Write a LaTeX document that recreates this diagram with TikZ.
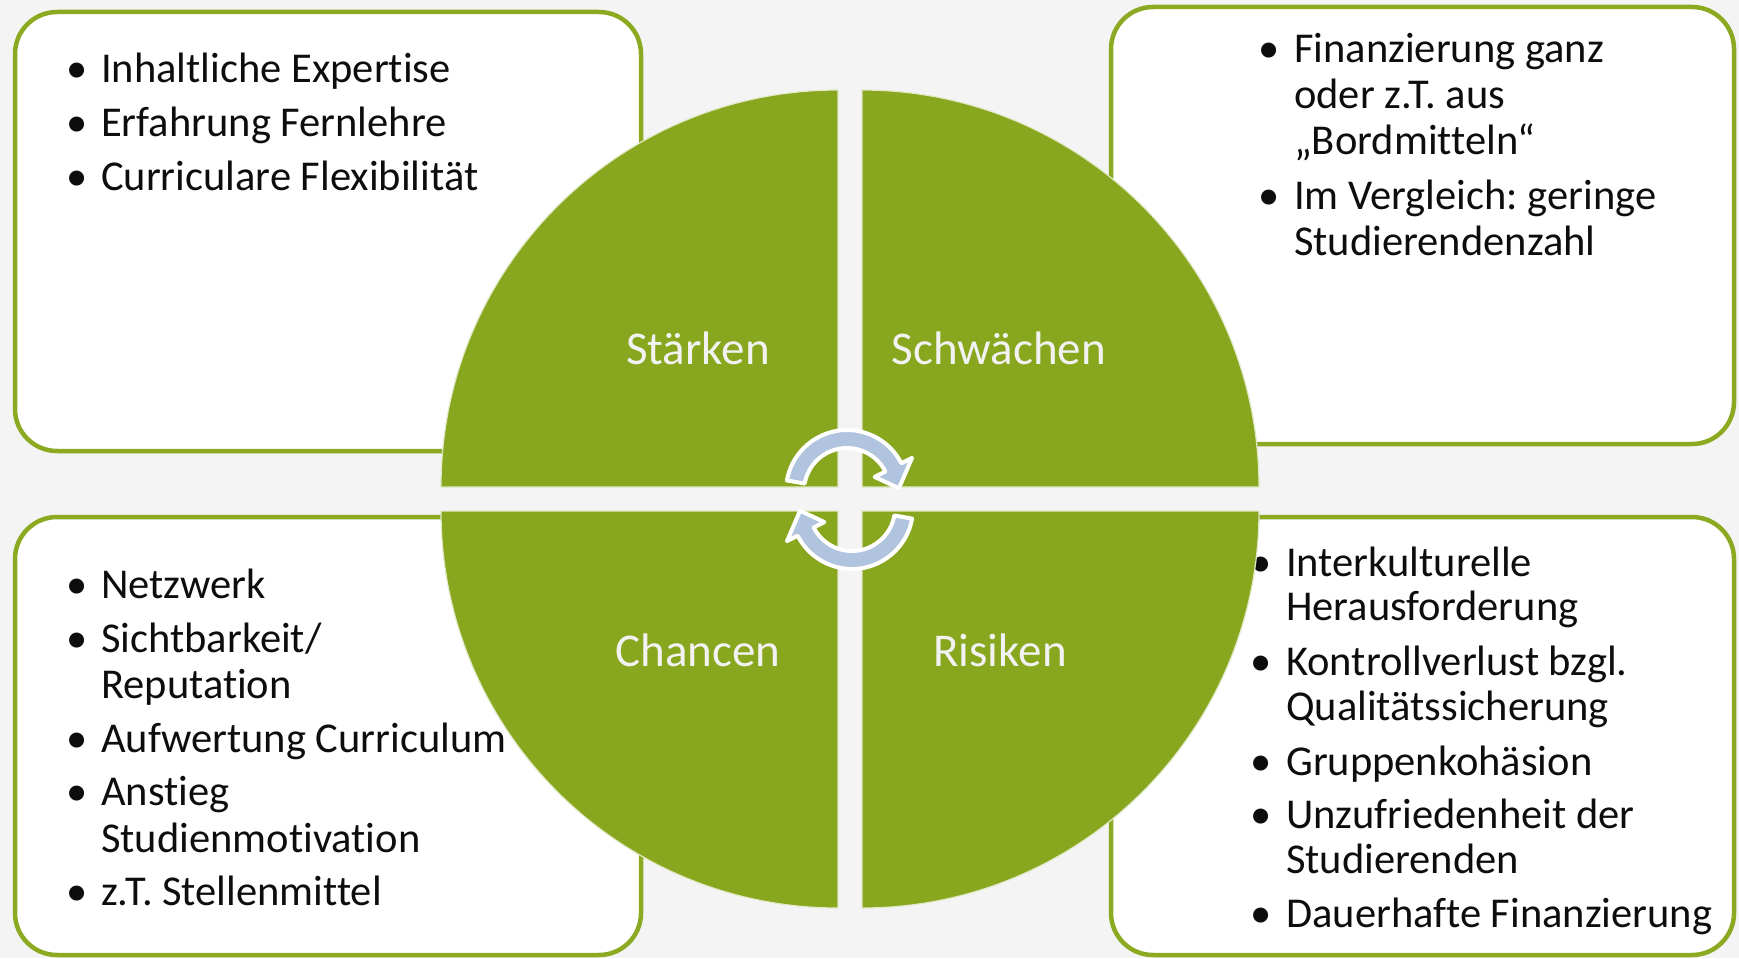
\documentclass[tikz,border=0pt]{standalone}
\usepackage{fontspec}
\setmainfont{Carlito}[Ligatures=NoCommon]
\frenchspacing
\definecolor{bg}{HTML}{F4F4F4}
\definecolor{sgreen}{HTML}{88A61E}
\definecolor{bgreen}{HTML}{8BAA22}
\definecolor{arrblue}{HTML}{B0C3DF}
\definecolor{txt}{HTML}{0D0D0D}
\begin{document}
\begin{tikzpicture}[x=1pt,y=-1pt,
 box/.style={draw=bgreen, line width=4.5pt, fill=white, rounded corners=42pt},
 quad/.style={fill=sgreen, draw=white!75!sgreen, line width=1.2pt},
 lbl/.style={anchor=base, inner sep=0pt, text=white!95!black, font=\fontsize{47}{56}\selectfont},
 itm/.style={anchor=base west, inner sep=0pt, text=txt, font=\fontsize{42.5}{50}\selectfont},
 bul/.style={anchor=base west, inner sep=0pt, text=txt, font=\fontsize{42.5}{50}\selectfont},
 arr/.style={fill=arrblue, draw=white, line width=4pt, line join=round}]
\useasboundingbox (0,0) rectangle (1739,958);
\fill[bg] (0,0) rectangle (1739,958);
% boxes
\draw[box] (15,12) rectangle (641,451);
\draw[box] (1111,7) rectangle (1734,444);
\draw[box] (15,517) rectangle (641,955);
\draw[box] (1111,517) rectangle (1734,955);
% top-left texts
\node[bul] (b11) at (66,82) {•};
\node[itm] (t11) at (101,82) {Inhaltliche Expertise};
\node[bul] (b12) at (66,136) {•};
\node[itm] (t12) at (101,136) {Erfahrung Fernlehre};
\node[bul] (b13) at (66,190) {•};
\node[itm] (t13) at (101,190) {Curriculare Flexibilität};
% top-right texts
\node[bul] (b21) at (1258,63) {•};
\node[itm] (t21) at (1294,63) {Finanzierung ganz};
\node[itm] (t22) at (1294,108) {oder z.T. aus};
\node[itm] (t23) at (1294,154) {„Bordmitteln“};
\node[bul] (b22) at (1258,209) {•};
\node[itm] (t24) at (1294,209) {Im Vergleich: geringe};
\node[itm] (t25) at (1294,255) {Studierendenzahl};
% bottom-left texts
\node[bul] (b31) at (66,598) {•};
\node[itm] (t31) at (101,598) {Netzwerk};
\node[bul] (b32) at (66,652) {•};
\node[itm] (t32) at (101,652) {Sichtbarkeit/};
\node[itm] (t33) at (101,698) {Reputation};
\node[bul] (b33) at (66,752) {•};
\node[itm] (t34) at (101,752) {Aufwertung Curriculum};
\node[bul] (b34) at (66,805) {•};
\node[itm] (t35) at (101,805) {Anstieg};
\node[itm] (t36) at (101,852) {Studienmotivation};
\node[bul] (b35) at (66,905) {•};
\node[itm] (t37) at (101,905) {z.T. Stellenmittel};
% bottom-right texts
\node[bul] (b41) at (1250,576) {•};
\node[itm] (t41) at (1286,576) {Interkulturelle};
\node[itm] (t42) at (1286,620) {Herausforderung};
\node[bul] (b42) at (1250,675) {•};
\node[itm] (t43) at (1286,675) {Kontrollverlust bzgl.};
\node[itm] (t44) at (1286,720) {Qualitätssicherung};
\node[bul] (b43) at (1250,775) {•};
\node[itm] (t45) at (1286,775) {Gruppenkohäsion};
\node[bul] (b44) at (1250,828) {•};
\node[itm] (t46) at (1286,828) {Unzufriedenheit der};
\node[itm] (t47) at (1286,873) {Studierenden};
\node[bul] (b45) at (1250,927) {•};
\node[itm] (t48) at (1286,927) {Dauerhafte Finanzierung};
% quadrants
\draw[quad] (838,487) -- ++(-397,0) arc[start angle=180, end angle=270, radius=397] -- cycle;
\draw[quad] (862,487) -- ++(0,-397) arc[start angle=270, end angle=360, radius=397] -- cycle;
\draw[quad] (838,511) -- ++(0,397) arc[start angle=90, end angle=180, radius=397] -- cycle;
\draw[quad] (862,511) -- ++(397,0) arc[start angle=0, end angle=90, radius=397] -- cycle;
% labels
\node[lbl] (st) at (698,364) {Stärken};
\node[lbl] (sw) at (999,364) {Schwächen};
\node[lbl] (ch) at (698,666) {Chancen};
\node[lbl] (ri) at (1000,666) {Risiken};
% cycle arrows
\begin{scope}[shift={(847,491)}]
\path[arr] (190:61) arc[start angle=190, end angle=333, radius=61] -- (333:73)
  -- (357:52) -- (333:31) -- (333:43) arc[start angle=333, end angle=190, radius=43] -- cycle;
\end{scope}
\begin{scope}[shift={(852,508)}, rotate=180]
\path[arr] (190:61) arc[start angle=190, end angle=333, radius=61] -- (333:73)
  -- (357:52) -- (333:31) -- (333:43) arc[start angle=333, end angle=190, radius=43] -- cycle;
\end{scope}
\end{tikzpicture}
\end{document}
